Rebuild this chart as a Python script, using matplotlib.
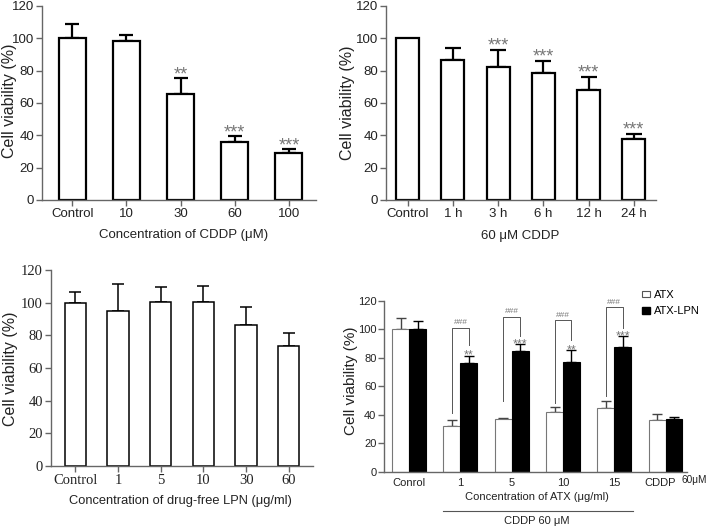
import numpy as np
import matplotlib
matplotlib.use("Agg")
import matplotlib.pyplot as plt
from matplotlib.patches import Patch
from matplotlib.transforms import ScaledTranslation

plt.rcParams['font.family'] = ['Liberation Sans', 'DejaVu Sans']

# ---- data ----
# A: CDDP concentration
cddp_labels = ["Control", "10", "30", "60", "100"]
cddp_vals = [100, 98.5, 65.8, 35.8, 29.2]
cddp_sd = [8.6, 3.3, 9.9, 4.0, 2.3]
cddp_stars = ["", "", "**", "***", "***"]

# B: 60 uM CDDP time course
time_labels = ["Control", "1 h", "3 h", "6 h", "12 h", "24 h"]
time_vals = [100, 86.6, 82.4, 78.3, 68.0, 37.7]
time_sd = [0, 7.4, 10.3, 7.8, 8.2, 3.0]
time_stars = ["", "", "***", "***", "***", "***"]

# C: drug-free LPN
lpn_labels = ["Control", "1", "5", "10", "30", "60"]
lpn_vals = [100, 94.8, 100.2, 100.5, 86.5, 73.6]
lpn_sd = [6.8, 16.4, 9.7, 9.8, 10.7, 7.8]

# D: ATX vs ATX-LPN
atx_labels = ["Conrol", "1", "5", "10", "15", "CDDP"]
atx_vals = [100, 32.2, 37.2, 42.0, 44.6, 36.7]
atx_sd = [8.2, 4.0, 0.8, 3.5, 4.9, 4.2]
atxlpn_vals = [100, 76.3, 84.4, 77.3, 87.3, 36.8]
atxlpn_sd = [6.0, 5.2, 5.2, 7.9, 7.7, 1.5]
atxlpn_stars = ["", "**", "***", "**", "***", ""]
# ### brackets: group index, top, left leg end, right leg end
br_groups = [1, 2, 3, 4]
br_top = [101, 108.8, 106.5, 115.4]
br_left = [41, 50, 48, 53]
br_right = [89, 95, 92.5, 100.7]

TXT = '#222222'
AX = '#666666'
STAR = '#777777'


def style_axes(ax, ticksize, tickfont=None, ticks_x=True):
    for s in ['top', 'right']:
        ax.spines[s].set_visible(False)
    for s in ['left', 'bottom']:
        ax.spines[s].set_color(AX)
        ax.spines[s].set_linewidth(1.0)
    ax.set_ylim(0, 120)
    ax.set_yticks(np.arange(0, 121, 20))
    ax.tick_params(axis='y', length=4, width=1, color=AX, labelsize=ticksize,
                   labelcolor=TXT, pad=1.5)
    ax.tick_params(axis='x', length=4 if ticks_x else 0, width=1, color=AX,
                   labelsize=ticksize, labelcolor=TXT, pad=2)
    if tickfont:
        for lab in ax.get_xticklabels() + ax.get_yticklabels():
            lab.set_family(tickfont)


def err_up(ax, x, vals, sd, capsize, lw, color='k'):
    x = np.asarray(x, float)
    vals = np.asarray(vals, float)
    sd = np.asarray(sd, float)
    m = sd > 0
    ax.errorbar(x[m], vals[m], yerr=[np.zeros(m.sum()), sd[m]], fmt='none',
                ecolor=color, elinewidth=lw, capsize=capsize, capthick=lw, zorder=1)


def stars(ax, x, vals, sd, labels, fs, off):
    for xi, v, s, lab in zip(x, vals, sd, labels):
        if lab:
            ax.annotate(lab, xy=(xi, v + s), xytext=(0, off), textcoords='offset points',
                        ha='center', va='baseline', fontsize=fs, color=STAR)


def side_text(ax, x, y, s, fs, rot=0):
    ax.text(x, y, s, transform=ax.transAxes, ha='center', va='center',
            fontsize=fs, color=TXT, rotation=rot)


fig = plt.figure(figsize=(7.08, 5.26), dpi=100)

# ---- panel A ----
ax1 = fig.add_axes([0.0593, 0.6198, 0.387, 0.3688])
x1 = np.arange(len(cddp_vals))
ax1.bar(x1, cddp_vals, width=0.5, color='white', edgecolor='k', linewidth=1.6, zorder=2)
err_up(ax1, x1, cddp_vals, cddp_sd, 5, 1.6)
stars(ax1, x1, cddp_vals, cddp_sd, cddp_stars, 13, -1)
ax1.set_xlim(-0.56, 4.5)
ax1.set_xticks(x1)
ax1.set_xticklabels(cddp_labels)
style_axes(ax1, 9.5)
side_text(ax1, 0.515, -0.18, "Concentration of CDDP (\u03bcM)", 9.5)
side_text(ax1, -0.117, 0.51, "Cell viability (%)", 11.5, 90)

# ---- panel B ----
ax2 = fig.add_axes([0.5452, 0.6198, 0.3814, 0.3688])
x2 = np.arange(len(time_vals))
ax2.bar(x2, time_vals, width=0.51, color='white', edgecolor='k', linewidth=1.6, zorder=2)
err_up(ax2, x2, time_vals, time_sd, 6, 1.6)
stars(ax2, x2, time_vals, time_sd, time_stars, 13, -0.5)
ax2.set_xlim(-0.48, 5.49)
ax2.set_xticks(x2)
ax2.set_xticklabels(time_labels)
style_axes(ax2, 9.5)
side_text(ax2, 0.498, -0.186, "60 \u03bcM CDDP", 9.5)
side_text(ax2, -0.144, 0.5, "Cell viability (%)", 11.5, 90)

# ---- panel C ----
ax3 = fig.add_axes([0.0716, 0.114, 0.370, 0.3726])
x3 = np.arange(len(lpn_vals))
ax3.bar(x3, lpn_vals, width=0.5, color='white', edgecolor='k', linewidth=1.1, zorder=2)
err_up(ax3, x3, lpn_vals, lpn_sd, 4.5, 1.1)
ax3.set_xlim(-0.58, 5.56)
ax3.set_xticks(x3)
ax3.set_xticklabels(lpn_labels)
style_axes(ax3, 10.5, tickfont='Liberation Serif')
side_text(ax3, 0.495, -0.179, "Concentration of drug-free LPN (\u03bcg/ml)", 9.3)
side_text(ax3, -0.155, 0.495, "Cell viability (%)", 11.5, 90)

# ---- panel D ----
ax4 = fig.add_axes([0.5424, 0.1027, 0.428, 0.3257])
x4 = np.arange(len(atx_vals))
w = 0.33
ax4.bar(x4 - w / 2, atx_vals, width=w, color='white', edgecolor='#777777', linewidth=0.8, zorder=2)
ax4.bar(x4 + w / 2, atxlpn_vals, width=w, color='black', edgecolor='black', linewidth=0.8, zorder=2)
err_up(ax4, x4 - w / 2, atx_vals, atx_sd, 3.5, 1.0, color='#444444')
err_up(ax4, x4 + w / 2, atxlpn_vals, atxlpn_sd, 3.5, 1.0)
stars(ax4, x4 + w / 2, atxlpn_vals, atxlpn_sd, atxlpn_stars, 9, -2.2)
for g, top, le, re in zip(br_groups, br_top, br_left, br_right):
    ax4.plot([g - w / 2, g - w / 2, g + w / 2, g + w / 2], [le, top, top, re],
             color='#555555', linewidth=0.7, zorder=3)
    ax4.annotate("###", xy=(g, top), xytext=(0, 2.4), textcoords='offset points',
                 ha='center', va='baseline', fontsize=6, color=STAR)
ax4.set_xlim(-0.49, 5.42)
ax4.set_xticks(x4)
ax4.set_xticklabels(atx_labels)
style_axes(ax4, 8, ticks_x=False)
ax4.tick_params(axis='x', pad=4)
last = ax4.get_xticklabels()[-1]
last.set_transform(last.get_transform() + ScaledTranslation(-4 / 72, 0, fig.dpi_scale_trans))
ax4.text(0.983, -0.049, "60\u03bcM", transform=ax4.transAxes, ha='left', va='center',
         fontsize=7.3, color=TXT)
side_text(ax4, 0.504, -0.146, "Concentration of ATX (\u03bcg/ml)", 8)
ax4.plot([0.194, 0.822], [-0.228, -0.228], transform=ax4.transAxes, color='#555555',
         linewidth=0.8, clip_on=False)
side_text(ax4, 0.504, -0.286, "CDDP 60 \u03bcM", 8)
side_text(ax4, -0.109, 0.53, "Cell viability (%)", 11, 90)
handles = [Patch(facecolor='white', edgecolor='#555555', linewidth=0.8, label='ATX'),
           Patch(facecolor='black', edgecolor='black', label='ATX-LPN')]
ax4.legend(handles=handles, loc='upper left', bbox_to_anchor=(0.85, 1.062), frameon=False,
           fontsize=8, borderpad=0, borderaxespad=0, handlelength=0.75, handleheight=0.55,
           handletextpad=0.4, labelspacing=0.55)

fig.savefig("out.png", dpi=100)
